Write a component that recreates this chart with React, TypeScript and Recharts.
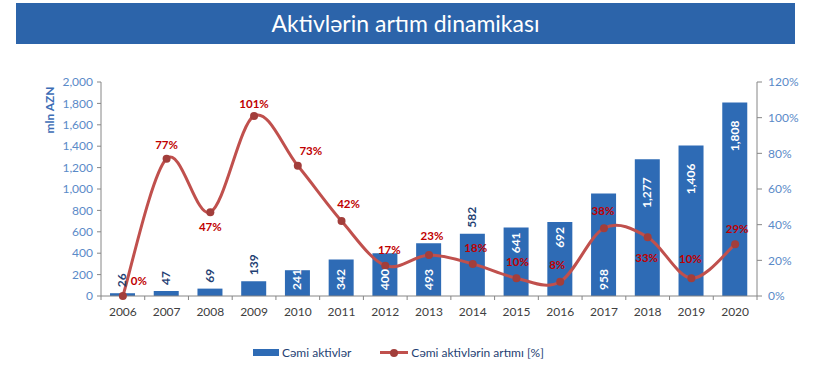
import React from "react";
import {
  ComposedChart,
  Bar,
  Line,
  XAxis,
  YAxis,
  LabelList,
} from "recharts";

const years = ["2006", "2007", "2008", "2009", "2010", "2011", "2012", "2013", "2014", "2015", "2016", "2017", "2018", "2019", "2020"];
const totalAssets = [26, 47, 69, 139, 241, 342, 400, 493, 582, 641, 692, 958, 1277, 1406, 1808];
const growthPct = [0, 77, 47, 101, 73, 42, 17, 23, 18, 10, 8, 38, 33, 10, 29];

const leftTicks = [0, 200, 400, 600, 800, 1000, 1200, 1400, 1600, 1800, 2000];
const rightTicks = [0, 20, 40, 60, 80, 100, 120];

// where each bar label sits (Excel put them by hand)
const barLabelPlace = ["above", "above", "above", "above", "bottom", "bottom", "bottom", "bottom", "above", "top", "top", "bottom", "top", "top", "top"];
// offsets for the % labels, relative to the point
const pctLabelOffset = [
  [16, -15], [0, -14], [0, 15], [0, -12], [13, -15], [7, -17], [4, -16], [3, -19],
  [3, -16], [1, -16], [-3, -17], [-1, -17], [-1, 21], [-1, -19], [2, -15],
];

const data = years.map((y, i) => ({ year: y, assets: totalAssets[i], growth: growthPct[i] }));

const FONT = "Lato, 'Open Sans', sans-serif";
const BLUE = "#2E6BB5";
const RED = "#C0504D";
const AXIS = "#868686";
const TICK_BLUE = "#5A8AC8";
const BAND = (757 - 101) / years.length;

// Excel-like smoothed line (catmull-rom style control points)
const excelSmooth = (context: any) => {
  let pts: number[][] = [];
  return {
    areaStart() {},
    areaEnd() {},
    lineStart() {
      pts = [];
    },
    point(x: number, y: number) {
      pts.push([+x, +y]);
    },
    lineEnd() {
      const n = pts.length;
      if (!n) return;
      context.moveTo(pts[0][0], pts[0][1]);
      for (let i = 0; i < n - 1; i++) {
        const p0 = pts[i - 1] || pts[i];
        const p1 = pts[i];
        const p2 = pts[i + 1];
        const p3 = pts[i + 2] || p2;
        context.bezierCurveTo(
          p1[0] + (p2[0] - p0[0]) / 6,
          p1[1] + (p2[1] - p0[1]) / 6,
          p2[0] - (p3[0] - p1[0]) / 6,
          p2[1] - (p3[1] - p1[1]) / 6,
          p2[0],
          p2[1]
        );
      }
    },
  };
};

const XTick = (props: any) => {
  const { x, y, payload, index } = props;
  const left = x - BAND / 2;
  return (
    <g>
      <line x1={left} y1={296} x2={left} y2={300} stroke={AXIS} />
      {index === years.length - 1 && <line x1={x + BAND / 2} y1={296} x2={x + BAND / 2} y2={300} stroke={AXIS} />}
      <text x={x} y={y + 14} textAnchor="middle" fontSize={12} fill="#404040" fontFamily={FONT}>
        {payload.value}
      </text>
    </g>
  );
};

const BarLabel = (props: any) => {
  const { x, y, width, height, value } = props;
  const i = props.index ?? totalAssets.indexOf(value);
  const place = barLabelPlace[i];
  const cx = Number(x) + Number(width) / 2 + 4;
  const top = Number(y);
  const base = Number(y) + Number(height);
  const txt = Number(value).toLocaleString("en-US");
  let ty = top;
  let anchor = "start";
  let fill = "#ffffff";
  if (place === "above") {
    ty = top - 6;
    fill = "#1F3F73";
  } else if (place === "bottom") {
    ty = base - 6;
  } else {
    ty = top + (Number(height) > 120 ? 18 : 5);
    anchor = "end";
  }
  return (
    <text
      x={cx}
      y={ty}
      transform={`rotate(-90 ${cx} ${ty})`}
      textAnchor={anchor}
      fontSize={12}
      fontWeight="bold"
      fill={fill}
      fontFamily={FONT}
    >
      {txt}
    </text>
  );
};

const PctLabel = (props: any) => {
  const { x, y, value } = props;
  const i = props.index ?? 0;
  const [dx, dy] = pctLabelOffset[i] || [0, -14];
  return (
    <text
      x={Number(x) + dx}
      y={Number(y) + dy + 4}
      textAnchor="middle"
      fontSize={11.5}
      fontWeight="bold"
      fill="#C00000"
      fontFamily={FONT}
    >
      {value}%
    </text>
  );
};

export default function App() {
  return (
    <div style={{ position: "absolute", left: 0, top: 0, width: 824, height: 367, background: "#fff", fontFamily: FONT }}>
      <div
        style={{
          position: "absolute",
          left: 16,
          top: 3,
          width: 779,
          height: 41,
          background: "#2C64AA",
          color: "#fff",
          fontSize: 23,
          lineHeight: "41px",
          textAlign: "center",
        }}
      >
        Aktivlərin artım dinamikası
      </div>

      <div
        style={{
          position: "absolute",
          left: 49,
          top: 110,
          transform: "translate(-50%, -50%) rotate(-90deg)",
          fontSize: 12,
          fontWeight: "bold",
          color: "#3D6DB5",
          whiteSpace: "nowrap",
        }}
      >
        mln AZN
      </div>

      <ComposedChart
        width={824}
        height={367}
        data={data}
        margin={{ top: 82, right: 17, left: 41, bottom: 41 }}
        style={{ position: "absolute", left: 0, top: 0 }}
      >
        <XAxis
          dataKey="year"
          stroke={AXIS}
          tickLine={false}
          tickSize={4}
          tickMargin={2}
          height={30}
          tick={<XTick />}
          interval={0}
        />
        <YAxis
          yAxisId="left"
          domain={[0, 2000]}
          ticks={leftTicks}
          stroke={AXIS}
          width={60}
          tickSize={4}
          tickMargin={4}
          tick={{ fill: TICK_BLUE, fontSize: 12, fontFamily: FONT }}
          tickFormatter={(v: number) => v.toLocaleString("en-US")}
          interval={0}
        />
        <YAxis
          yAxisId="right"
          orientation="right"
          domain={[0, 120]}
          ticks={rightTicks}
          stroke={AXIS}
          width={50}
          tickSize={5}
          tickMargin={6}
          tick={{ fill: TICK_BLUE, fontSize: 12, fontFamily: FONT }}
          tickFormatter={(v: number) => `${v}%`}
          interval={0}
        />
        <Bar yAxisId="left" dataKey="assets" fill={BLUE} barSize={25} isAnimationActive={false}>
          <LabelList dataKey="assets" content={<BarLabel />} />
        </Bar>
        <Line
          yAxisId="right"
          dataKey="growth"
          type={excelSmooth as any}
          stroke={RED}
          strokeWidth={3}
          dot={{ r: 4, fill: "#A23E3B", stroke: "#A23E3B", strokeWidth: 0 }}
          activeDot={false}
          isAnimationActive={false}
        >
          <LabelList dataKey="growth" content={<PctLabel />} />
        </Line>
      </ComposedChart>

      <div
        style={{
          position: "absolute",
          top: 345,
          left: 253,
          display: "flex",
          alignItems: "center",
          fontSize: 12,
          color: "#1F3F73",
          whiteSpace: "nowrap",
        }}
      >
        <span style={{ display: "inline-block", width: 26, height: 7, background: BLUE, marginRight: 3 }} />
        <span>Cəmi aktivlər</span>
        <span style={{ position: "relative", display: "inline-block", width: 28, height: 3, background: RED, marginLeft: 29, marginRight: 3 }}>
          <span
            style={{
              position: "absolute",
              left: 10,
              top: -2.5,
              width: 8,
              height: 8,
              borderRadius: 4,
              background: "#A23E3B",
            }}
          />
        </span>
        <span>Cəmi aktivlərin artımı [%]</span>
      </div>
    </div>
  );
}
